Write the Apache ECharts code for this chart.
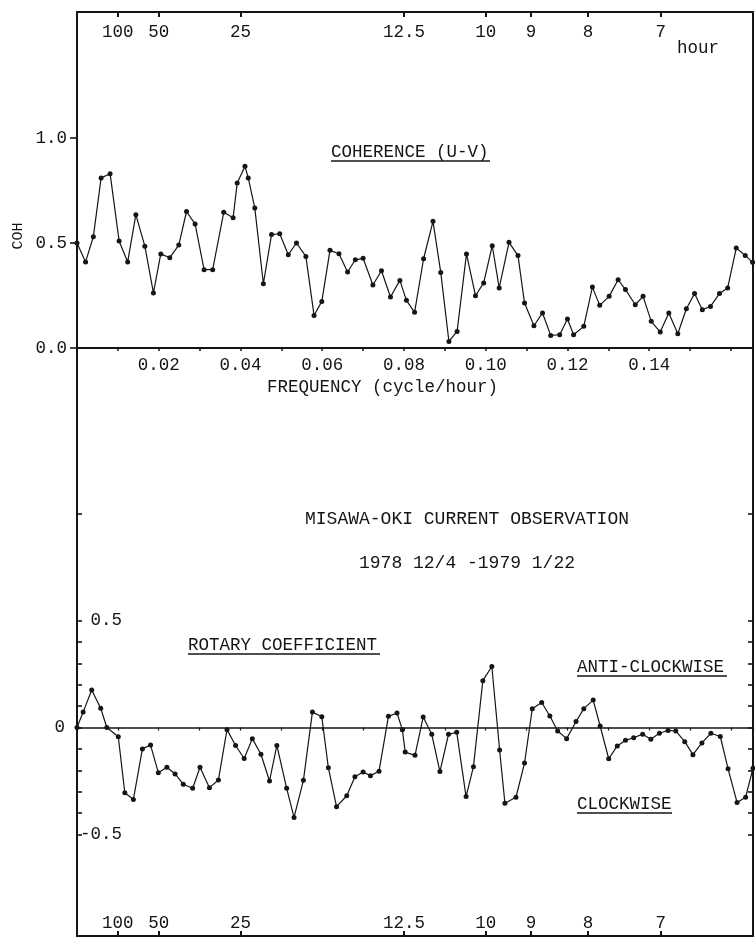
<!DOCTYPE html>
<html><head><meta charset="utf-8">
<script src="https://cdn.jsdelivr.net/npm/echarts@6/dist/echarts.min.js"></script>
<style>html,body{margin:0;padding:0;background:#fff}#c{width:755px;height:937px}</style>
</head><body><div id="c"></div>
<script>
// ---- data ----
const cohFreq = [0, 0.0021, 0.0040, 0.0059, 0.0081, 0.0103, 0.0124, 0.0144, 0.0166, 0.0187, 0.0205, 0.0227, 0.0249, 0.0268, 0.0289, 0.0311, 0.0332, 0.0359, 0.0382, 0.0392, 0.0411, 0.0419, 0.0435, 0.0456, 0.0476, 0.0496, 0.0517, 0.0537, 0.0560, 0.0580, 0.0599, 0.0619, 0.0641, 0.0662, 0.0681, 0.0700, 0.0724, 0.0745, 0.0767, 0.0790, 0.0806, 0.0826, 0.0848, 0.0871, 0.0890, 0.0910, 0.0930, 0.0953, 0.0975, 0.0995, 0.1016, 0.1033, 0.1057, 0.1079, 0.1095, 0.1118, 0.1139, 0.1159, 0.1181, 0.1200, 0.1215, 0.1240, 0.1261, 0.1279, 0.1302, 0.1324, 0.1342, 0.1366, 0.1385, 0.1405, 0.1427, 0.1448, 0.1470, 0.1491, 0.1511, 0.1530, 0.1550, 0.1572, 0.1592, 0.1613, 0.1635, 0.1653];
const cohValues = [0.50, 0.41, 0.53, 0.81, 0.83, 0.51, 0.41, 0.635, 0.485, 0.262, 0.448, 0.43, 0.49, 0.65, 0.59, 0.373, 0.373, 0.646, 0.62, 0.786, 0.865, 0.81, 0.667, 0.306, 0.54, 0.544, 0.444, 0.50, 0.436, 0.155, 0.222, 0.465, 0.449, 0.362, 0.42, 0.427, 0.30, 0.368, 0.243, 0.322, 0.227, 0.17, 0.425, 0.603, 0.36, 0.031, 0.079, 0.448, 0.249, 0.31, 0.487, 0.286, 0.503, 0.44, 0.214, 0.106, 0.167, 0.06, 0.063, 0.138, 0.063, 0.103, 0.29, 0.203, 0.246, 0.325, 0.278, 0.206, 0.246, 0.127, 0.076, 0.167, 0.068, 0.187, 0.259, 0.182, 0.198, 0.259, 0.286, 0.476, 0.441, 0.408];
const rotFreq = [0, 0.0015, 0.0036, 0.0058, 0.0073, 0.0101, 0.0117, 0.0138, 0.0160, 0.0180, 0.0199, 0.0220, 0.0240, 0.0260, 0.0283, 0.0301, 0.0324, 0.0346, 0.0367, 0.0388, 0.0409, 0.0429, 0.0450, 0.0471, 0.0489, 0.0513, 0.0531, 0.0554, 0.0576, 0.0599, 0.0615, 0.0635, 0.0660, 0.0680, 0.0700, 0.0718, 0.0739, 0.0762, 0.0783, 0.0796, 0.0803, 0.0827, 0.0847, 0.0868, 0.0888, 0.0909, 0.0929, 0.0952, 0.0970, 0.0993, 0.1015, 0.1034, 0.1047, 0.1074, 0.1095, 0.1114, 0.1137, 0.1157, 0.1176, 0.1198, 0.1221, 0.1240, 0.1263, 0.1280, 0.1301, 0.1322, 0.1342, 0.1362, 0.1384, 0.1404, 0.1425, 0.1446, 0.1465, 0.1487, 0.1507, 0.1529, 0.1551, 0.1574, 0.1593, 0.1615, 0.1636, 0.1654];
const rotValues = [0, 0.072, 0.175, 0.09, 0.0, -0.043, -0.305, -0.336, -0.10, -0.082, -0.211, -0.186, -0.217, -0.265, -0.284, -0.186, -0.281, -0.245, -0.01, -0.084, -0.145, -0.052, -0.125, -0.25, -0.084, -0.284, -0.42, -0.247, 0.072, 0.05, -0.188, -0.37, -0.319, -0.23, -0.208, -0.225, -0.204, 0.052, 0.068, -0.01, -0.115, -0.13, 0.049, -0.032, -0.206, -0.032, -0.022, -0.323, -0.183, 0.219, 0.285, -0.105, -0.354, -0.326, -0.166, 0.088, 0.117, 0.054, -0.016, -0.052, 0.028, 0.088, 0.128, 0.007, -0.146, -0.086, -0.06, -0.048, -0.031, -0.055, -0.027, -0.014, -0.016, -0.066, -0.127, -0.072, -0.027, -0.042, -0.193, -0.35, -0.326, -0.19];
const freqTickLabels = [0.02, 0.04, 0.06, 0.08, 0.10, 0.12, 0.14];
const periodHours = [100, 50, 25, 12.5, 10, 9, 8, 7];
const cohTickLabels = [0.0, 0.5, 1.0];
const rotInsideLabels = [-0.5, 0.5];
const rotZeroLabel = [0];
const rotTicks = [-0.5, -0.4, -0.3, -0.2, -0.1, 0, 0.1, 0.2, 0.3, 0.4, 0.5, 1.0];

// ---- chart ----
const INK = '#151515';
const MONO = '"Liberation Mono", "DejaVu Sans Mono", monospace';
const FS = 17.5;
const F_MAX = 0.1654;
const periodFreqs = periodHours.map(h => 1 / h);
const periodFmt = v => String(Math.round(10 / v) / 10);

const chart = echarts.init(document.getElementById('c'), null, {renderer: 'canvas'});
const lineAx = w => ({show: true, onZero: false, lineStyle: {color: INK, width: w}});
const txt = (size) => ({color: INK, fontFamily: MONO, fontSize: size || FS});

function T(text, x, y, opt) {
  opt = opt || {};
  return {type: 'text', x: x, y: y, rotation: opt.rot || 0, z: 10,
    style: {text: text, fill: INK, font: (opt.size || FS) + 'px ' + MONO,
      align: opt.align || 'left', verticalAlign: 'middle',
      textAlign: opt.align || 'left', textVerticalAlign: 'middle'}};
}
function U(x1, x2, y) {
  return {type: 'line', z: 10, shape: {x1: x1, y1: y, x2: x2, y2: y}, style: {stroke: INK, lineWidth: 1.6}};
}

const option = {
  backgroundColor: '#ffffff',
  animation: false,
  grid: [
    {left: 77, right: 2, top: 12, height: 336},
    {left: 77, right: 2, top: 348, bottom: 1}
  ],
  xAxis: [
    { // frequency axis, top panel
      type: 'value', gridIndex: 0, position: 'bottom', min: 0, max: F_MAX, interval: 0.01,
      axisLine: lineAx(2), splitLine: {show: false},
      axisTick: {show: true, length: 3, lineStyle: {color: INK, width: 1.5}},
      axisLabel: {customValues: freqTickLabels, formatter: v => v.toFixed(2), margin: 8, ...txt()},
      name: 'FREQUENCY (cycle/hour)', nameLocation: 'middle', nameGap: 30,
      nameTextStyle: {...txt(), padding: [0, 65, 0, 0]}
    },
    { // period axis, top border
      type: 'value', gridIndex: 0, position: 'top', min: 0, max: F_MAX,
      axisLine: lineAx(2), splitLine: {show: false},
      axisTick: {show: true, inside: true, length: 5, customValues: periodFreqs, lineStyle: {color: INK, width: 2}},
      axisLabel: {inside: true, customValues: periodFreqs, formatter: periodFmt, margin: 11, ...txt()}
    },
    { // zero line, bottom panel
      type: 'value', gridIndex: 1, position: 'top', min: 0, max: F_MAX, interval: 0.01,
      axisLine: {show: true, onZero: true, lineStyle: {color: INK, width: 1.6}}, splitLine: {show: false},
      axisTick: {show: true, inside: true, length: 3, lineStyle: {color: INK, width: 1.2}},
      axisLabel: {show: false}
    },
    { // period axis, bottom border
      type: 'value', gridIndex: 1, position: 'bottom', min: 0, max: F_MAX,
      axisLine: lineAx(2), splitLine: {show: false},
      axisTick: {show: true, inside: true, length: 5, customValues: periodFreqs, lineStyle: {color: INK, width: 2}},
      axisLabel: {inside: true, customValues: periodFreqs, formatter: periodFmt, margin: 4, ...txt()}
    }
  ],
  yAxis: [
    { // COH
      type: 'value', gridIndex: 0, position: 'left', min: 0, max: 1.6,
      axisLine: lineAx(2), splitLine: {show: false},
      axisTick: {show: true, length: 7, customValues: cohTickLabels, lineStyle: {color: INK, width: 1.6}},
      axisLabel: {customValues: cohTickLabels, formatter: v => v.toFixed(1), margin: 10, ...txt()}
    },
    {
      type: 'value', gridIndex: 0, position: 'right', min: 0, max: 1.6,
      axisLine: lineAx(2), splitLine: {show: false}, axisTick: {show: false}, axisLabel: {show: false}
    },
    { // rotary coefficient, inside labels
      type: 'value', gridIndex: 1, position: 'left', min: -0.9743, max: 1.7734,
      axisLine: lineAx(2), splitLine: {show: false},
      axisTick: {show: true, inside: true, length: 5, customValues: rotTicks, lineStyle: {color: INK, width: 1.6}},
      axisLabel: {inside: true, align: 'right', customValues: rotInsideLabels, formatter: v => v.toFixed(1), margin: 45, ...txt()}
    },
    { // zero label outside
      type: 'value', gridIndex: 1, position: 'left', min: -0.9743, max: 1.7734,
      axisLine: {show: false, onZero: false}, splitLine: {show: false}, axisTick: {show: false},
      axisLabel: {customValues: rotZeroLabel, formatter: v => '0', margin: 12, ...txt()}
    },
    {
      type: 'value', gridIndex: 1, position: 'right', min: -0.9743, max: 1.7734,
      axisLine: lineAx(2), splitLine: {show: false},
      axisTick: {show: true, inside: true, length: 5, customValues: rotTicks, lineStyle: {color: INK, width: 1.6}},
      axisLabel: {show: false}
    }
  ],
  series: [
    {
      type: 'line', name: 'COHERENCE (U-V)', xAxisIndex: 0, yAxisIndex: 0,
      data: cohFreq.map((f, i) => [f, cohValues[i]]),
      symbol: 'circle', symbolSize: 5, showAllSymbol: true,
      lineStyle: {color: INK, width: 1.2}, itemStyle: {color: INK}
    },
    {
      type: 'line', name: 'ROTARY COEFFICIENT', xAxisIndex: 2, yAxisIndex: 2,
      data: rotFreq.map((f, i) => [f, rotValues[i]]),
      symbol: 'circle', symbolSize: 5, showAllSymbol: true,
      lineStyle: {color: INK, width: 1.2}, itemStyle: {color: INK}
    }
  ],
  graphic: [
    T('hour', 677, 48),
    T('COH', 18, 236, {rot: Math.PI / 2, align: 'center', size: 15}),
    T('COHERENCE (U-V)', 331, 152), U(331, 490, 161),
    T('MISAWA-OKI CURRENT OBSERVATION', 467, 519, {align: 'center', size: 18}),
    T('1978 12/4 -1979 1/22', 467, 563, {align: 'center', size: 18}),
    T('ROTARY COEFFICIENT', 188, 645), U(188, 380, 654),
    T('ANTI-CLOCKWISE', 577, 667), U(577, 727, 676),
    T('CLOCKWISE', 577, 804), U(577, 672, 813)
  ]
};
chart.setOption(option);
</script>
</body></html>
